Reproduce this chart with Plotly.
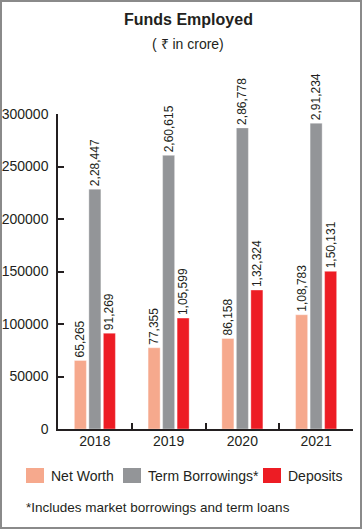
import plotly.graph_objects as go

years = ["2018", "2019", "2020", "2021"]
series_names = ["Net Worth", "Term Borrowings*", "Deposits"]
net_worth = [65265, 77355, 86158, 108783]
term_borrowings = [228447, 260615, 286778, 291234]
deposits = [91269, 105599, 132324, 150131]
y_ticks = [0, 50000, 100000, 150000, 200000, 250000, 300000]
colors = ["#F6A98D", "#939598", "#ED1C24"]

W, H = 362, 529
L, R, T, B = 58, 9, 114, 100
PW, PH = W - L - R, H - T - B


def px_x(px):
    return (px - L) / PW


def px_y(py):
    return (H - B - py) / PH


def indian(n):
    s = str(int(n))
    if len(s) <= 3:
        return s
    last3 = s[-3:]
    rest = s[:-3]
    parts = []
    while len(rest) > 2:
        parts.insert(0, rest[-2:])
        rest = rest[:-2]
    if rest:
        parts.insert(0, rest)
    return ",".join(parts + [last3])


FONT = "Liberation Sans, Arial, sans-serif"
TXT = "#231F20"

fig = go.Figure()
for name, vals, col in zip(series_names, [net_worth, term_borrowings, deposits], colors):
    fig.add_trace(go.Bar(
        x=years, y=vals, name=name,
        marker=dict(color=col, line=dict(color="rgba(255,255,255,0.35)", width=1)),
        text=[indian(v) for v in vals],
        textposition="outside", textangle=-90,
        textfont=dict(size=12, color=TXT, family=FONT),
        constraintext="none", cliponaxis=False,
        showlegend=False,
    ))

annotations = [
    dict(text="<b>Funds Employed</b>", x=px_x(188), y=px_y(20), xref="paper", yref="paper",
         showarrow=False, font=dict(size=16, color=TXT, family=FONT), xanchor="center", yanchor="middle"),
    dict(text="( ₹ in crore)", x=px_x(188), y=px_y(44), xref="paper", yref="paper",
         showarrow=False, font=dict(size=14, color=TXT, family=FONT), xanchor="center", yanchor="middle"),
    dict(text="*Includes market borrowings and term loans", x=px_x(24), y=px_y(507), xref="paper", yref="paper",
         showarrow=False, font=dict(size=13.5, color=TXT, family=FONT), xanchor="left", yanchor="middle"),
]

shapes = []
leg_sq = [26, 123, 263]
for name, col, sx in zip(series_names, colors, leg_sq):
    shapes.append(dict(type="rect", xref="paper", yref="paper",
                       x0=px_x(sx), x1=px_x(sx + 18), y0=px_y(483), y1=px_y(468),
                       fillcolor=col, line=dict(width=0)))
    annotations.append(dict(text=name, x=px_x(sx + 23), y=px_y(476), xref="paper", yref="paper",
                            showarrow=False, font=dict(size=14, color=TXT, family=FONT),
                            xanchor="left", yanchor="middle"))

shapes.append(dict(type="rect", xref="paper", yref="paper",
                   x0=px_x(1), x1=px_x(W - 1), y0=px_y(H - 1), y1=px_y(1),
                   line=dict(color="#8a8a8a", width=2), fillcolor="rgba(0,0,0,0)", layer="below"))

fig.update_layout(
    width=W, height=H,
    margin=dict(l=L, r=R, t=T, b=B, pad=0, autoexpand=False),
    paper_bgcolor="white", plot_bgcolor="white",
    barmode="group", bargap=0.41, bargroupgap=0.17,
    font=dict(family=FONT, color=TXT),
    annotations=annotations, shapes=shapes,
    xaxis=dict(type="category", showline=True, linecolor="#231F20", linewidth=1.5,
               ticks="inside", tickson="boundaries", ticklen=6, tickwidth=1.5, tickcolor="#231F20",
               tickfont=dict(size=14, color=TXT, family=FONT), showgrid=False,
               automargin=False, ticklabelstandoff=-2),
    yaxis=dict(range=[0, 300000], tickvals=y_ticks, ticktext=[str(v) for v in y_ticks],
               showline=True, linecolor="#231F20", linewidth=1.5,
               ticks="inside", ticklen=6, tickwidth=1.5, tickcolor="#231F20",
               tickfont=dict(size=14, color=TXT, family=FONT), showgrid=False, zeroline=False,
               automargin=False, ticklabelstandoff=5),
)

fig.write_html("out.html", config={"displayModeBar": False},
               post_script="document.body.style.margin='0';document.body.style.overflow='hidden';")
